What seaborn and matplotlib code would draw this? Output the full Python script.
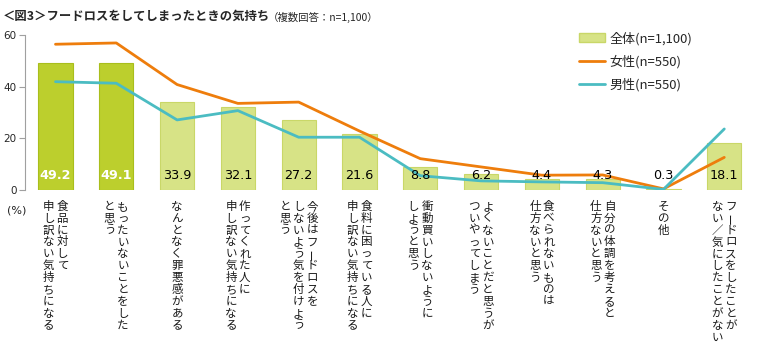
import matplotlib
matplotlib.use("Agg")
import matplotlib.pyplot as plt
from matplotlib.patches import Patch
from matplotlib.lines import Line2D
import seaborn as sns
import pandas as pd

# category labels, split into vertical columns (right to left)
label_columns = [
    ["食品に対して", "申し訳ない気持ちになる"],
    ["もったいないことをした", "と思う"],
    ["なんとなく罪悪感がある"],
    ["作ってくれた人に", "申し訳ない気持ちになる"],
    ["今後はフードロスを", "しないよう気を付けよう", "と思う"],
    ["食料に困っている人に", "申し訳ない気持ちになる"],
    ["衝動買いしないように", "しようと思う"],
    ["よくないことだと思うが", "ついやってしまう"],
    ["食べられないものは", "仕方ないと思う"],
    ["自分の体調を考えると", "仕方ないと思う"],
    ["その他"],
    ["フードロスをしたことが", "ない／気にしたことがない"],
]
total = [49.2, 49.1, 33.9, 32.1, 27.2, 21.6, 8.8, 6.2, 4.4, 4.3, 0.3, 18.1]
female = [56.4, 56.9, 40.8, 33.5, 34.0, 22.8, 12.1, 8.9, 5.7, 5.8, 0.4, 12.6]
male = [41.9, 41.3, 27.1, 30.7, 20.4, 20.4, 5.5, 3.5, 3.1, 2.8, 0.2, 23.6]
yticks = [0, 20, 40, 60]

sns.set_theme(style="white")
plt.rcParams['font.family'] = ['Noto Sans CJK JP', 'DejaVu Sans']

DARK = "#bccf2d"
LIGHT = "#d7e386"
ORANGE = "#ee7d0c"
TEAL = "#4bbcc2"

df = pd.DataFrame({"pos": range(len(total)), "total": total,
                   "female": female, "male": male})

fig = plt.figure(figsize=(7.6, 3.53), dpi=100)
ax = fig.add_axes([0.033, 0.462, 0.96, 0.439])

bar_colors = [DARK if i < 2 else LIGHT for i in range(len(total))]
sns.barplot(data=df, x="pos", y="total", hue="pos", palette=bar_colors,
            legend=False, width=0.56, ax=ax, saturation=1)
for i, p in enumerate(ax.patches):
    p.set_edgecolor("#a9be1c" if i < 2 else "#c9d768")
    p.set_linewidth(0.8)

sns.lineplot(data=df, x="pos", y="female", color=ORANGE, lw=2.0, ax=ax)
sns.lineplot(data=df, x="pos", y="male", color=TEAL, lw=2.0, ax=ax)

# value labels inside bars
for i, v in enumerate(total):
    if i < 2:
        ax.text(i, 5.5, f"{v:.1f}", ha="center", va="center", fontsize=9.2,
                color="white", fontweight="bold", family="DejaVu Sans", zorder=5)
    else:
        ax.text(i, 5.5, f"{v:.1f}", ha="center", va="center", fontsize=9.2,
                color="black", family="DejaVu Sans", zorder=5)

ax.set_xlim(-0.5, len(total) - 0.5)
ax.set_ylim(0, 60)
ax.set_yticks(yticks)
ax.set_yticklabels([str(t) for t in yticks], fontsize=7.5, family="DejaVu Sans")
ax.set_xticks([])
ax.set_xlabel("")
ax.set_ylabel("")
ax.tick_params(axis="y", length=4, width=0.8, color="#a0a0a0", pad=2, left=True)
for s in ["top", "right", "bottom"]:
    ax.spines[s].set_visible(False)
ax.spines["left"].set_color("#a0a0a0")
ax.spines["left"].set_linewidth(0.8)

# vertical category labels, one character at a time (tategaki)
col_gap = 9.8    # points between columns
char_step = 8.55  # points between characters
for i, cols in enumerate(label_columns):
    n = len(cols)
    for k, col in enumerate(cols):
        dx = ((n - 1) / 2 - k) * col_gap
        for j, ch in enumerate(col):
            rot = 90 if ch == "ー" else 0
            ax.annotate(ch, xy=(i, 0), xycoords=("data", "axes fraction"),
                        xytext=(dx, -11.8 - j * char_step),
                        textcoords="offset points", rotation=rot,
                        ha="center", va="center", fontsize=8.3,
                        color="#1a1a1a")

fig.text(0.009, 0.405, "(%)", fontsize=8, ha="left", va="center",
         family="DejaVu Sans", color="#222222")

# title
fig.text(0.003, 0.953, "＜図3＞フードロスをしてしまったときの気持ち", fontsize=8.9,
         fontweight="bold", ha="left", va="center")
fig.text(0.352, 0.951, "（複数回答：n=1,100）", fontsize=7.5, ha="left", va="center")

handles = [Patch(facecolor=LIGHT, edgecolor="#c9d768"),
           Line2D([], [], color=ORANGE, lw=2),
           Line2D([], [], color=TEAL, lw=2)]
labels = ["全体(n=1,100)", "女性(n=550)", "男性(n=550)"]
fig.legend(handles, labels, loc="upper left", bbox_to_anchor=(0.755, 0.925),
           frameon=False, fontsize=9.4, labelspacing=0.75, handlelength=2.0,
           handletextpad=0.3, borderaxespad=0)

fig.savefig("out.png", dpi=100)
